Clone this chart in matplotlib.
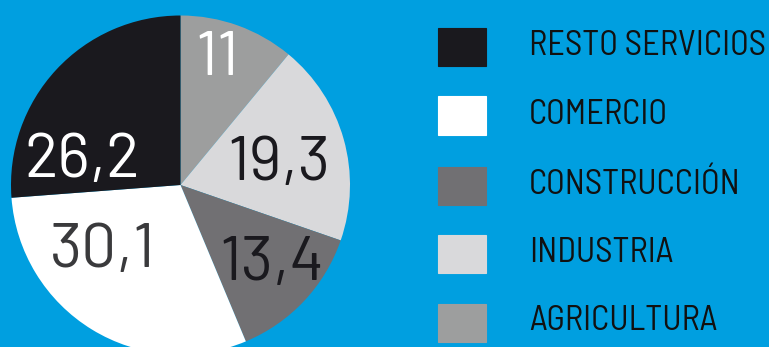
import matplotlib.pyplot as plt
from matplotlib.patches import Rectangle

# sectores, en orden horario desde arriba
sectores = ['AGRICULTURA', 'INDUSTRIA', 'CONSTRUCCIÓN', 'COMERCIO', 'RESTO SERVICIOS']
valores = [11, 19.3, 13.4, 30.1, 26.2]
colores = ['#9d9e9e', '#d9d9db', '#717073', '#ffffff', '#1a191e']
color_texto = ['#ffffff', '#1a191e', '#1a191e', '#3a3a3c', '#ffffff']
# linea base de cada cifra dentro del circulo (unidades del radio)
pos_texto = [(0.215, 0.65), (0.58, 0.03), (0.54, -0.56), (-0.457, -0.484), (-0.578, 0.047)]

# orden de la leyenda
orden_leyenda = ['RESTO SERVICIOS', 'COMERCIO', 'CONSTRUCCIÓN', 'INDUSTRIA', 'AGRICULTURA']

fondo = '#009fe0'
fuente = ['Barlow Semi Condensed', 'DejaVu Sans']
fuente_cifras = ['Barlow', 'DejaVu Sans']

W, H = 769, 347
fig = plt.figure(figsize=(W / 100, H / 100), dpi=100, facecolor=fondo)

# tarta
cx, cy, r = 180.5, 185, 169.5
ax = fig.add_axes([(cx - r) / W, (H - cy - r) / H, 2 * r / W, 2 * r / H])
ax.set_facecolor(fondo)
ax.pie(valores, colors=colores, startangle=90, counterclock=False,
       wedgeprops={'linewidth': 0}, radius=1)
ax.set_xlim(-1, 1)
ax.set_ylim(-1, 1)
ax.set_aspect('equal')
ax.axis('off')

for v, c, (x, y) in zip(valores, color_texto, pos_texto):
    txt = f'{v:g}'.replace('.', ',')
    ax.text(x, y, txt, color=c, fontsize=45, family=fuente_cifras,
            ha='center', va='baseline')

# leyenda
x0, ancho, alto = 438, 48, 38
y_filas = [28, 96.5, 167, 235, 303.5]
for nombre, yt in zip(orden_leyenda, y_filas):
    i = sectores.index(nombre)
    fig.patches.append(Rectangle((x0 / W, 1 - (yt + alto) / H), ancho / W, alto / H,
                                 transform=fig.transFigure, facecolor=colores[i],
                                 edgecolor='#1a191e' if i == 4 else colores[i],
                                 linewidth=0.8))
    fig.text(529 / W, 1 - (yt + alto / 2 - 1) / H, nombre, color='#111111',
             fontsize=24.8, family=fuente, ha='left', va='center')

fig.savefig('out.png', dpi=100, facecolor=fondo)
